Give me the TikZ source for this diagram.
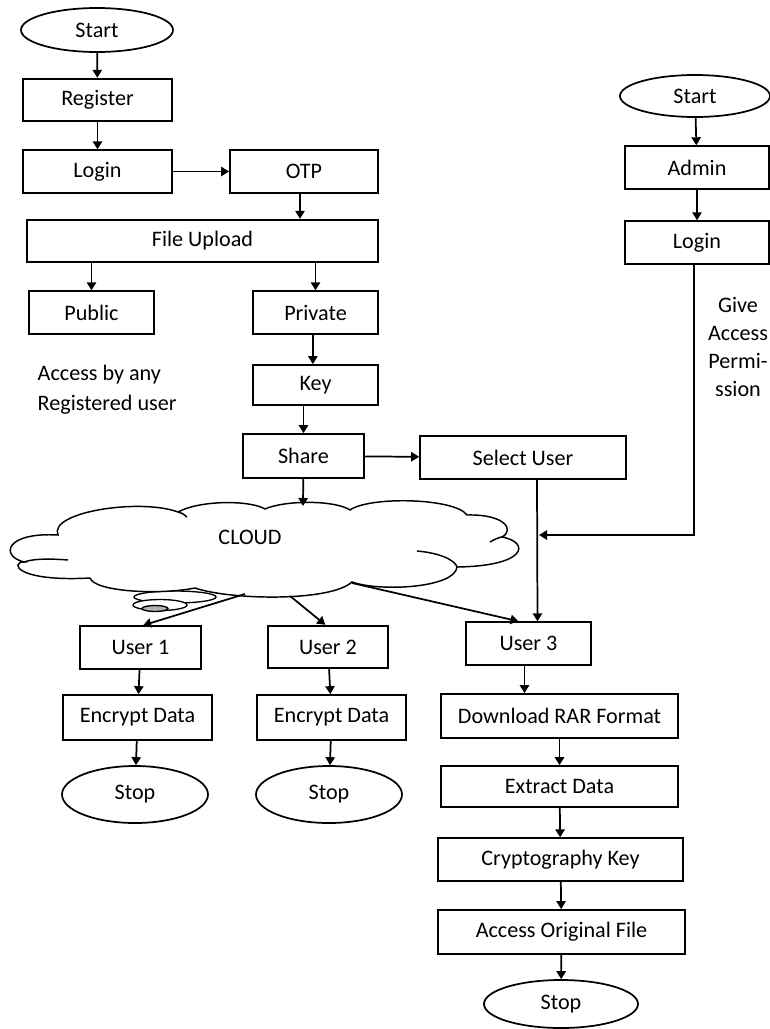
\documentclass[tikz,border=0pt]{standalone}
\usepackage{fontspec}
\setmainfont{Carlito}
\usetikzlibrary{shapes.geometric,arrows.meta}

\begin{document}
\begin{tikzpicture}[x=0.75pt,y=-0.75pt,
    box/.style={draw, line width=1.3pt, inner sep=0pt, minimum height=32pt},
    term/.style={ellipse, draw, line width=1.3pt, inner sep=0pt},
    arr/.style={-{Triangle[length=6pt,width=7pt]}, line width=1.3pt},
    font=\fontsize{16.6}{19}\selectfont]
    \useasboundingbox (0,0) rectangle (770,1029);

    % upload side
    \node[term, minimum width=114pt, minimum height=33pt] (start) at (97,30) {Start};
    \node[box, minimum width=111.75pt] (register) at (97.5,100) {Register};
    \node[box, minimum width=111.75pt] (login) at (97.5,171.5) {Login};
    \node[box, minimum width=111pt] (otp) at (304,171.5) {OTP};
    \node[box, minimum width=263.25pt] (upload) at (202.5,241) {File Upload};
    \node[box, minimum width=93.75pt] (public) at (91.5,312.5) {Public};
    \node[box, minimum width=93.75pt] (private) at (315.5,312.5) {Private};
    \node[box, minimum width=93.75pt, minimum height=30pt] (key) at (315.5,385) {Key};
    \node[box, minimum width=90.75pt, minimum height=33pt] (share) at (303.5,456) {Share};
    \node[box, minimum width=154.5pt] (select) at (523,457.5) {Select User};
    \node[anchor=west, align=left, font=\fontsize{16.6}{22.5}\selectfont] (anyuser) at (33,390) {Access by any\\Registered user};

    \draw[arr] (start) -- (register);
    \draw[arr] (register) -- (login);
    \draw[arr] (login) -- (otp);
    \draw[arr] ([xshift=-3pt]otp.south) -- ([xshift=-3pt]otp.south |- upload.north);
    \draw[arr] (public |- upload.south) -- (public);
    \draw[arr] (private |- upload.south) -- (private);
    \draw[arr] ([xshift=-2pt]private.south) -- ([xshift=-2pt]key.north);
    \draw[arr] (share |- key.south) -- (share);
    \draw[arr] (share) -- (select);

    % admin side
    \node[term, minimum width=112.5pt, minimum height=31.5pt] (start2) at (695,96) {Start};
    \node[box, minimum width=108pt] (admin) at (697,167.5) {Admin};
    \node[box, minimum width=108pt] (login2) at (697,242.5) {Login};
    \node[align=center, font=\fontsize{16.6}{21}\selectfont] (permit) at (738,347) {Give\\Access\\Permi-\\ssion};
    \coordinate (permitend) at (539,535);

    \draw[arr] (start2) -- (admin);
    \draw[arr] (admin) -- (login2);
    \draw[arr] ([xshift=-2pt]login2.south) |- (permitend);

    % cloud with its small tail
    \draw[line width=1pt] (175,597) ellipse [x radius=41, y radius=6];
    \draw[line width=1pt, fill=white] (160,605) ellipse [x radius=27, y radius=5.5];
    \draw[line width=1pt, fill=gray!60] (155,608.5) ellipse [x radius=13, y radius=3];
    \draw[line width=1.1pt, fill=white] (24,562)
        .. controls (0,556) and (5,532) .. (58,535)
        .. controls (48,512) and (140,498) .. (178,512)
        .. controls (200,500) and (250,500) .. (265,509)
        .. controls (285,500) and (335,500) .. (350,510)
        .. controls (370,496) and (455,498) .. (467,515)
        .. controls (505,514) and (515,530) .. (502,537)
        .. controls (530,542) and (528,566) .. (457,567)
        .. controls (455,588) and (380,592) .. (352,582)
        .. controls (330,602) and (230,600) .. (195,588)
        .. controls (160,595) and (95,592) .. (90,578)
        .. controls (15,582) and (10,562) .. (24,562) -- cycle;
    \draw[line width=1.1pt] (24,562) .. controls (35,558) and (55,559) .. (68,560);
    \draw[line width=1.1pt] (178,512) .. controls (182,513) and (185,515) .. (187,517);
    \draw[line width=1.1pt] (417,551) .. controls (440,553) and (455,560) .. (457,567);
    \draw[line width=1.1pt] (490,542) .. controls (495,539) and (500,537) .. (502,537);
    \node (cloud) at (250,537) {CLOUD};
    \coordinate (ctop) at (303,506);
    \coordinate (cu1) at (245,594);
    \coordinate (cu2) at (290,596);
    \coordinate (cu3) at (352,583);
    \draw[arr] (share) -- (ctop);

    % users
    \node[box, minimum width=90.75pt] (user1) at (140.5,647.5) {User 1};
    \node[box, minimum width=90pt] (user2) at (328,647) {User 2};
    \node[box, minimum width=93.75pt] (user3) at (528.5,643.5) {User 3};
    \node[box, minimum width=111.75pt, minimum height=33.75pt] (enc1) at (137.5,717.5) {Encrypt Data};
    \node[box, minimum width=111.75pt, minimum height=33.75pt] (enc2) at (331.5,717.5) {Encrypt Data};
    \node[term, minimum width=109.5pt, minimum height=42.75pt] (stop1) at (135,794.5) {Stop};
    \node[term, minimum width=109.5pt, minimum height=42.75pt] (stop2) at (329,794.5) {Stop};
    \node[box, minimum width=177.75pt, minimum height=33pt] (download) at (559.5,716) {Download RAR Format};
    \node[box, minimum width=177.75pt, minimum height=30.75pt] (extract) at (559.5,786.5) {Extract Data};
    \node[box, minimum width=183.75pt] (cryptkey) at (560.5,859.5) {Cryptography Key};
    \node[box, minimum width=185.25pt, minimum height=33pt] (original) at (561.5,932) {Access Original File};
    \node[term, minimum width=115.5pt, minimum height=36pt] (stop3) at (561,1004) {Stop};

    \draw[arr] (cu1) -- ([xshift=2pt]user1.north);
    \draw[arr] (cu2) -- ([xshift=-2pt]user2.north);
    \draw[arr] (cu3) -- ([xshift=-7.5pt]user3.north);
    \draw[arr] ([xshift=10.5pt]select.south) -- ([xshift=6.75pt]user3.north);
    \draw[arr] (user1) -- (enc1);
    \draw[arr] (user2) -- (enc2);
    \draw[arr] (enc1) -- (stop1);
    \draw[arr] (enc2) -- (stop2);
    \draw[arr] ([xshift=-3pt]user3.south) -- ([xshift=-3pt]user3.south |- download.north);
    \draw[arr] (download) -- (extract);
    \draw[arr] (extract) -- (cryptkey);
    \draw[arr] (cryptkey) -- (original);
    \draw[arr] (original) -- (stop3);
\end{tikzpicture}
\end{document}
